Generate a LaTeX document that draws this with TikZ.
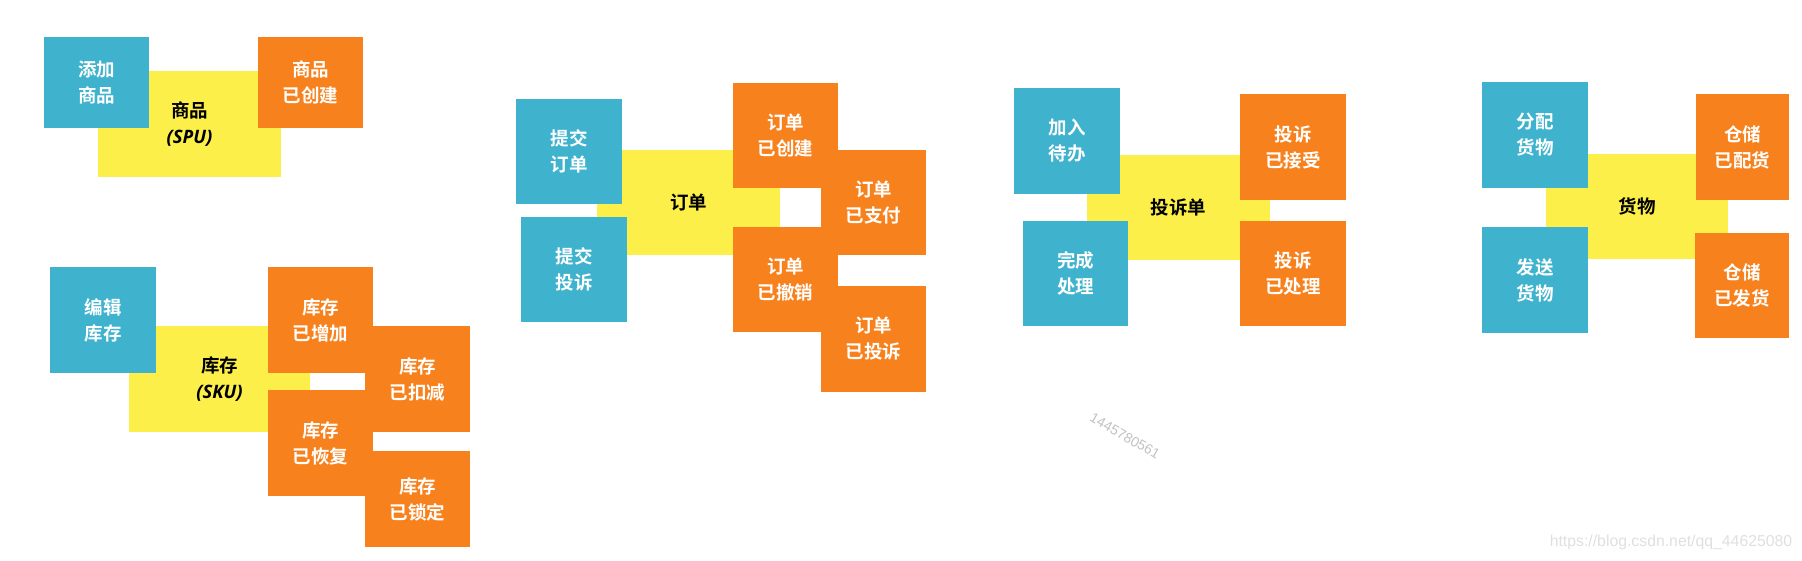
\documentclass[tikz,border=0pt]{standalone}
\usepackage{fontspec}
\usepackage{xcolor}
\setmainfont{Open Sans}
\newfontfamily\cjk{Noto Sans CJK SC Bold}
\newfontfamily\wmfont{Liberation Sans}
\usepackage{tikz}

\definecolor{cmdblue}{HTML}{3FB2CE}
\definecolor{evtorange}{HTML}{F7821D}
\definecolor{aggyellow}{HTML}{FCEF4A}
\newcommand\cardfont{\cjk\fontsize{18.5}{26}\selectfont}
\newcommand\tag[1]{{\rmfamily\bfseries\itshape #1}}

\begin{document}
\begin{tikzpicture}[x=1pt, y=-1pt,
  card/.style={inner sep=0pt, align=center, font=\cardfont, text=white},
  cmd/.style={card, fill=cmdblue},
  evt/.style={card, fill=evtorange},
  agg/.style={card, fill=aggyellow, text=black},
  sz/.style 2 args={minimum width=#1pt, minimum height=#2pt}]
  \useasboundingbox[fill=white] (0,0) rectangle (1802,560);
  % product (SPU)
  \node[agg, sz={183}{106}] (spu) at (189.5,124) {商品\\\tag{(SPU)}};
  \node[cmd, sz={105}{91}] (addspu) at (96.5,82.5) {添加\\商品};
  \node[evt, sz={105}{91}] (spucreated) at (310.5,82.5) {商品\\已创建};
  % stock (SKU)
  \node[agg, sz={181}{106}] (sku) at (219.5,379) {库存\\\tag{(SKU)}};
  \node[cmd, sz={106}{106}] (editsku) at (103,320) {编辑\\库存};
  \node[evt, sz={105}{106}] (skuadded) at (320.5,320) {库存\\已增加};
  \node[evt, sz={105}{106}] (skudeducted) at (417.5,379) {库存\\已扣减};
  \node[evt, sz={105}{106}] (skurestored) at (320.5,443) {库存\\已恢复};
  \node[evt, sz={105}{96}] (skulocked) at (417.5,499) {库存\\已锁定};
  % order
  \node[agg, sz={183}{105}] (order) at (688.5,202.5) {订单};
  \node[cmd, sz={106}{105}] (placeorder) at (569,151.5) {提交\\订单};
  \node[cmd, sz={106}{105}] (fileclaim) at (574,269.5) {提交\\投诉};
  \node[evt, sz={105}{105}] (ordercreated) at (785.5,135.5) {订单\\已创建};
  \node[evt, sz={105}{105}] (orderpaid) at (873.5,202.5) {订单\\已支付};
  \node[evt, sz={105}{105}] (ordercancelled) at (785.5,279.5) {订单\\已撤销};
  \node[evt, sz={105}{106}] (orderclaimed) at (873.5,339) {订单\\已投诉};
  % complaint
  \node[agg, sz={183}{105}] (claim) at (1178.5,207.5) {投诉单};
  \node[cmd, sz={106}{106}] (addtodo) at (1067,141) {加入\\待办};
  \node[cmd, sz={105}{105}] (finish) at (1075.5,273.5) {完成\\处理};
  \node[evt, sz={106}{106}] (accepted) at (1293,147) {投诉\\已接受};
  \node[evt, sz={106}{105}] (handled) at (1293,273.5) {投诉\\已处理};
  % goods
  \node[agg, sz={182}{105}] (goods) at (1637,206.5) {货物};
  \node[cmd, sz={106}{106}] (allocate) at (1535,135) {分配\\货物};
  \node[cmd, sz={106}{106}] (ship) at (1535,280) {发送\\货物};
  \node[evt, sz={93}{106}] (allocated) at (1742.5,147) {仓储\\已配货};
  \node[evt, sz={94}{105}] (shipped) at (1742,285.5) {仓储\\已发货};
  % watermarks
  \node[font=\wmfont\fontsize{14}{16}\selectfont, text=black!24, rotate=-30, inner sep=0pt]
    (wmqq) at (1125,436) {1445780561};
  \node[font=\wmfont\fontsize{15.8}{18}\selectfont, text=black!12, inner sep=0pt]
    (wmurl) at (1671,542) {https://blog.csdn.net/qq\_44625080};
\end{tikzpicture}
\end{document}
